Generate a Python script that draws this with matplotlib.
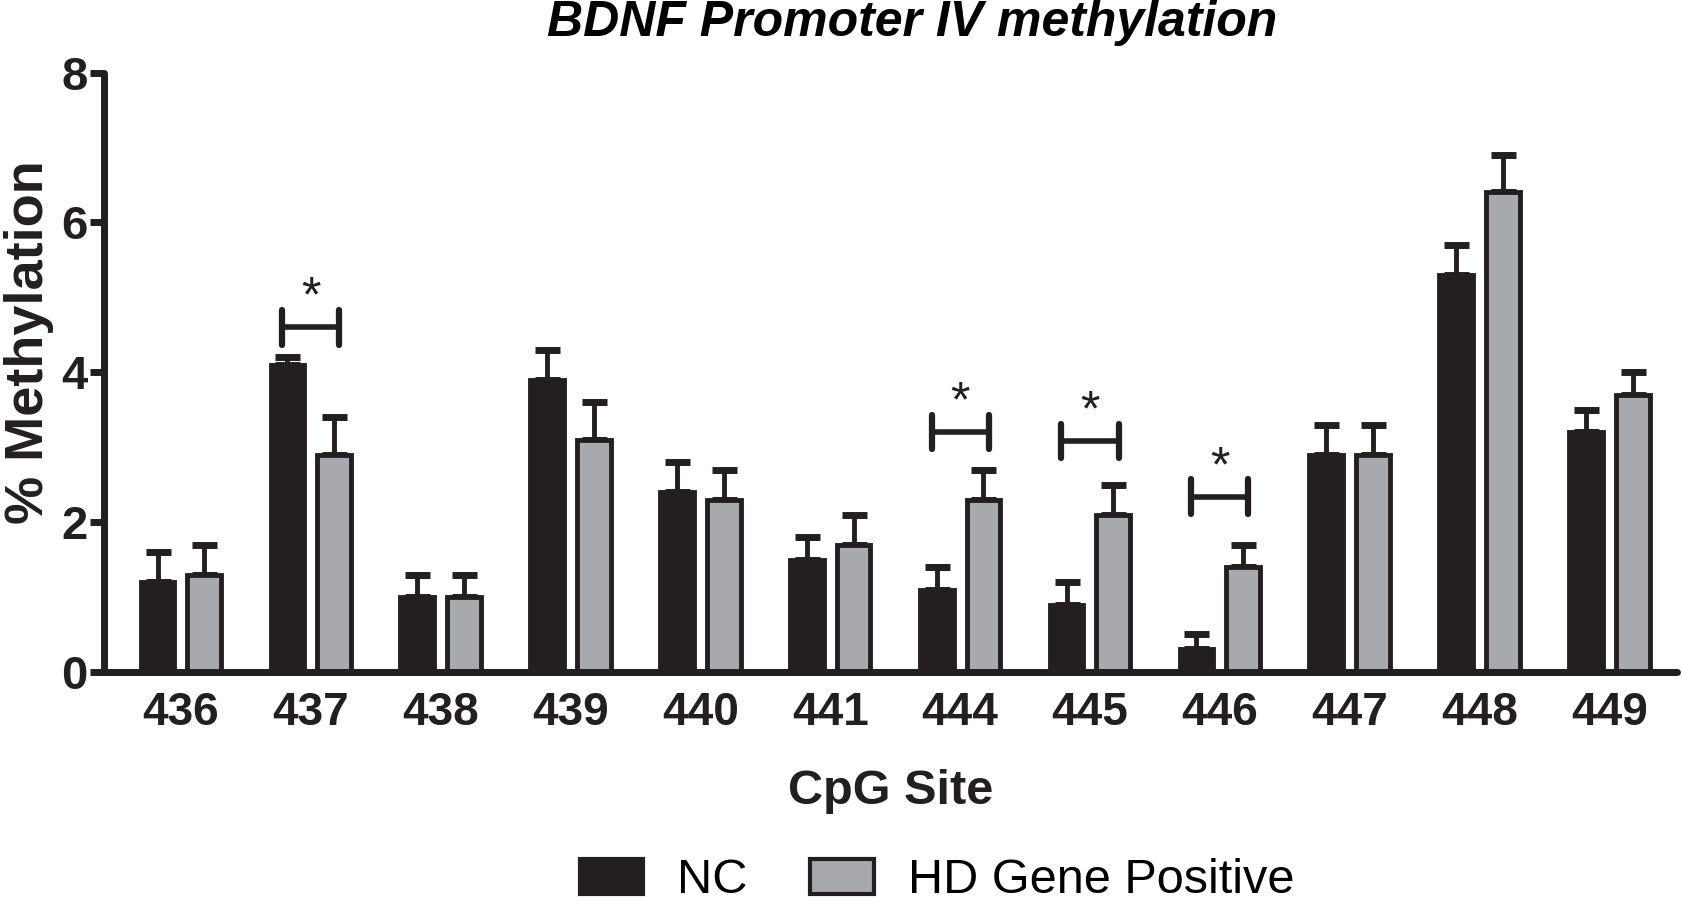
import numpy as np
import matplotlib
matplotlib.use("Agg")
import matplotlib.pyplot as plt
from matplotlib.patches import Patch

sites = ["436", "437", "438", "439", "440", "441", "444", "445", "446", "447", "448", "449"]
nc_mean = [1.2, 4.1, 1.0, 3.9, 2.4, 1.5, 1.1, 0.9, 0.3, 2.9, 5.3, 3.2]
nc_err = [0.4, 0.1, 0.3, 0.4, 0.4, 0.3, 0.3, 0.3, 0.2, 0.4, 0.4, 0.3]
hd_mean = [1.3, 2.9, 1.0, 3.1, 2.3, 1.7, 2.3, 2.1, 1.4, 2.9, 6.4, 3.7]
hd_err = [0.4, 0.5, 0.3, 0.5, 0.4, 0.4, 0.4, 0.4, 0.3, 0.4, 0.5, 0.3]
# significant sites: index and bracket height
sig_idx = [1, 6, 7, 8]
sig_y = [4.6, 3.2, 3.08, 2.34]

fnt = ["Liberation Sans", "DejaVu Sans"]
dark = "#231f20"
grey = "#a7a9ac"

fig = plt.figure(figsize=(16.82, 9.08), dpi=100)
ax = fig.add_axes([0.062, 0.26, 0.935, 0.66])

x = np.arange(len(sites))
off = 0.18
w = 0.26
ax.errorbar(x - off, nc_mean, yerr=[np.zeros(len(x)), nc_err], fmt="none",
            ecolor=dark, elinewidth=3.5, capsize=9, capthick=5, zorder=1)
ax.errorbar(x + off, hd_mean, yerr=[np.zeros(len(x)), hd_err], fmt="none",
            ecolor=dark, elinewidth=3.5, capsize=9, capthick=5, zorder=1)
ax.bar(x - off, nc_mean, w, color=dark, edgecolor=dark, linewidth=3.5, zorder=2)
ax.bar(x + off, hd_mean, w, color=grey, edgecolor=dark, linewidth=3.5, zorder=2)

for i, yb in zip(sig_idx, sig_y):
    x0, x1 = i - 0.22, i + 0.22
    ax.plot([x0, x1], [yb, yb], color=dark, lw=4, solid_capstyle="butt")
    ax.plot([x0, x0], [yb - 0.23, yb + 0.23], color=dark, lw=4.5, solid_capstyle="round")
    ax.plot([x1, x1], [yb - 0.23, yb + 0.23], color=dark, lw=4.5, solid_capstyle="round")
    ax.text(i, yb + 0.38, "*", ha="center", va="center", fontsize=36,
            family=fnt, color=dark)

ax.set_xlim(-0.59, 11.52)
ax.set_ylim(0, 8)
ax.set_yticks([0, 2, 4, 6, 8])
ax.set_xticks(x)
ax.set_xticklabels(sites, family=fnt, fontweight="bold", fontsize=33)
for lab in ax.get_yticklabels():
    lab.set_family(fnt)
    lab.set_fontweight("bold")
    lab.set_fontsize(34)
ax.tick_params(axis="x", length=0, pad=14, colors=dark)
ax.tick_params(axis="y", length=10, width=5, pad=2, colors=dark)
for s in ["top", "right"]:
    ax.spines[s].set_visible(False)
for s in ["left", "bottom"]:
    ax.spines[s].set_linewidth(5)
    ax.spines[s].set_color(dark)
    ax.spines[s].set_capstyle("round")

ax.set_ylabel("% Methylation", family=fnt, fontweight="bold", fontsize=39,
              color=dark)
ax.yaxis.set_label_coords(-0.032, 0.55)
ax.set_xlabel("CpG Site", family=fnt, fontweight="bold", fontsize=35,
              color=dark, labelpad=24)
fig.text(0.542, 0.975, "BDNF Promoter IV methylation", ha="center", va="center",
         family=fnt, fontweight="bold", style="italic", fontsize=36, color="black")

handles = [Patch(facecolor=dark, edgecolor=dark, linewidth=3),
           Patch(facecolor=grey, edgecolor=dark, linewidth=3)]
fig.legend(handles, ["NC", "HD Gene Positive"], loc="center", bbox_to_anchor=(0.557, 0.03),
           ncol=2, frameon=False, prop={"family": fnt, "size": 35},
           handlelength=1.3, handleheight=0.75, columnspacing=1.3, handletextpad=0.7,
           borderpad=0.1)

fig.savefig("out.png", dpi=100)
